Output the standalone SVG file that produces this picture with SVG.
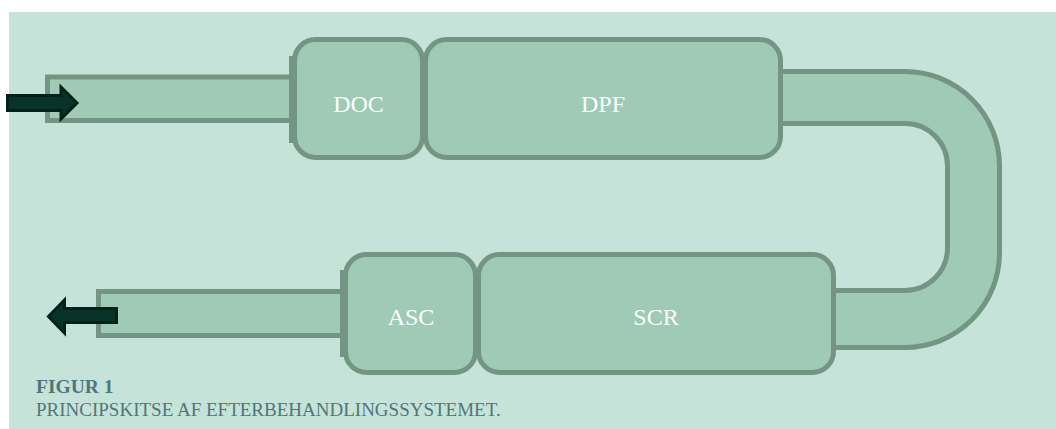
<svg xmlns="http://www.w3.org/2000/svg" width="1056" height="429" viewBox="0 0 1056 429">
<style>
.bg{fill:#c6e3d9}
.part{fill:#9ecab6;stroke:#749584;stroke-width:5}
.flange{fill:#749584}
.lbl{font-family:"Liberation Serif","DejaVu Serif",serif;font-size:24px;fill:#ffffff;text-anchor:middle}
.arrow{fill:#0a3328;stroke:#01221a;stroke-width:3;stroke-linejoin:miter}
.cap{font-family:"Liberation Serif","DejaVu Serif",serif;fill:#50767a}
</style>
<rect x="0" y="0" width="1056" height="429" fill="#ffffff"/>
<rect class="bg" x="9" y="12" width="1047" height="417"/>
<g id="connectors">
<rect id="inlet-pipe" class="part" x="47.5" y="77" width="260" height="43.5"/>
<rect id="outlet-pipe" class="part" x="98.5" y="291.5" width="260" height="44"/>
<path id="u-bend" class="part" d="M760 71.5 H905 A94.5 94.5 0 0 1 999.5 166 V253 A94.5 94.5 0 0 1 905 347.5 H810 V290.5 H905 A42.5 42.5 0 0 0 947.5 248 V166 A42.5 42.5 0 0 0 905 123.5 H760 Z"/>
<rect class="flange" x="289" y="56" width="6" height="87"/>
<rect class="flange" x="340" y="270" width="6" height="87"/>
</g>
<g id="DOC">
<rect class="part" x="294.5" y="39.5" width="128" height="118" rx="21"/>
<text class="lbl" x="358.5" y="112">DOC</text>
</g>
<g id="DPF">
<rect class="part" x="425.5" y="39.5" width="355" height="118" rx="21"/>
<text class="lbl" x="603" y="112">DPF</text>
</g>
<g id="ASC">
<rect class="part" x="345.5" y="254.5" width="130" height="118" rx="21"/>
<text class="lbl" x="411" y="325">ASC</text>
</g>
<g id="SCR">
<rect class="part" x="478.5" y="254.5" width="355" height="118" rx="21"/>
<text class="lbl" x="656" y="325">SCR</text>
</g>
<g id="arrow-in">
<path class="arrow" d="M7.5 95.5 H61 V87 L77 103 L61 119 V110.5 H7.5 Z"/>
</g>
<g id="arrow-out">
<path class="arrow" d="M116.5 308.5 H64.5 V300 L48.5 316.5 L64.5 333 V322.5 H116.5 Z"/>
</g>
<g id="caption">
<text class="cap" x="36" y="393" font-size="19.5" font-weight="bold">FIGUR 1</text>
<text class="cap" x="36" y="415.5" font-size="19">PRINCIPSKITSE AF EFTERBEHANDLINGSSYSTEMET.</text>
</g>
</svg>
